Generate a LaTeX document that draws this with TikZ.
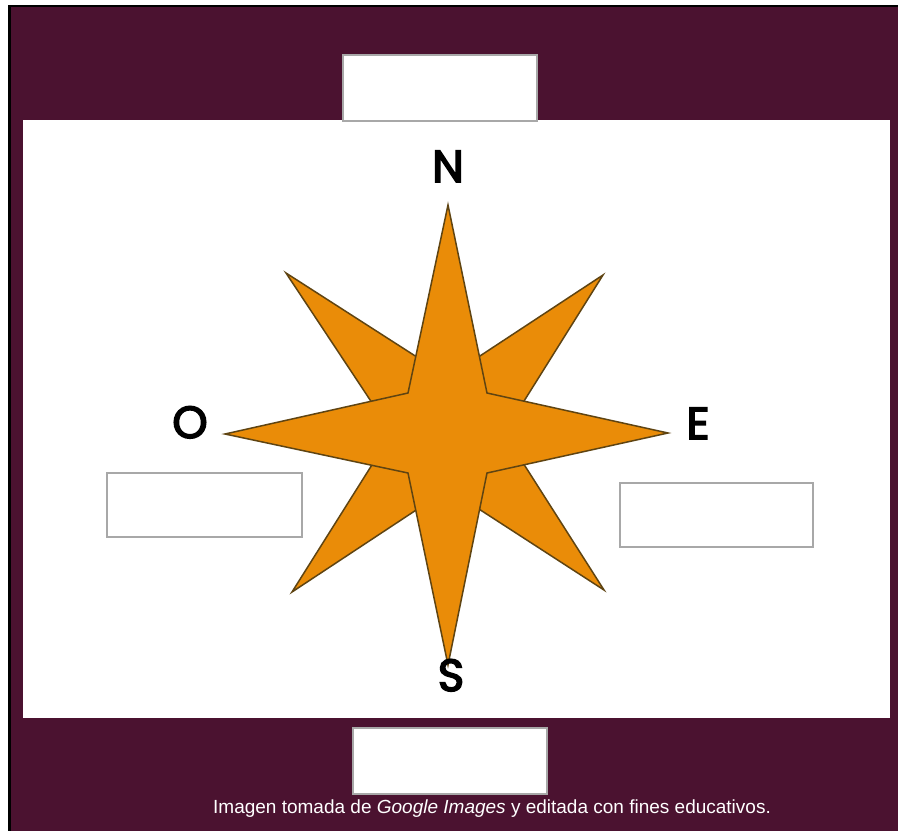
\documentclass[tikz,border=0pt]{standalone}
\usepackage{fontspec}
\setmainfont{Liberation Sans}
\newfontfamily\letterfont[FakeBold=3.5]{Poppins}
\definecolor{maroon}{RGB}{75,18,48}
\definecolor{starfill}{RGB}{234,140,8}
\definecolor{starline}{RGB}{95,68,18}
\definecolor{boxgray}{RGB}{168,168,168}
\tikzset{
  starpart/.style={fill=starfill, draw=starline, line width=1.5pt, line join=miter},
  blankbox/.style={fill=white, draw=boxgray, line width=2.6pt},
  dirletter/.style={font=\letterfont\fontsize{45}{45}\selectfont, text=black, anchor=base, inner sep=0pt},
}
\begin{document}
\begin{tikzpicture}[x=1pt,y=-1pt]
\useasboundingbox (0,0) rectangle (898,831);
% outer frame
\fill[white] (0,0) rectangle (898,831);
\fill[black] (8,5) rectangle (898,831);
\fill[maroon] (11,7) rectangle (898,831);
% white picture area
\fill[white] (23,120) rectangle (890,718);
% diagonal star
\draw[starpart] (286,273) -- (448,377) -- (603,275) -- (504,433) -- (604,590)
  -- (448,489) -- (292,592) -- (392,433) -- cycle;
% main star
\draw[starpart] (448,205) -- (487,393) -- (668,433) -- (487,473) -- (448,665)
  -- (408,473) -- (225,434) -- (408,393) -- cycle;
% direction letters
\node[dirletter] (n) at (448,182) {N};
\node[dirletter] (o) at (190,438) {O};
\node[dirletter] (e) at (698,439) {E};
\node[dirletter] (s) at (451,691) {S};
% blank boxes
\draw[blankbox] (343,55) rectangle (537,121);
\draw[blankbox] (107,473) rectangle (302,537);
\draw[blankbox] (620,483) rectangle (813,547);
\draw[blankbox] (353,728) rectangle (547,794);
% caption
\node[text=white, font=\fontsize{19}{21}\selectfont, anchor=base] (cap) at (492,813)
  {Imagen tomada de \textit{Google Images} y editada con fines educativos.};
\end{tikzpicture}
\end{document}
